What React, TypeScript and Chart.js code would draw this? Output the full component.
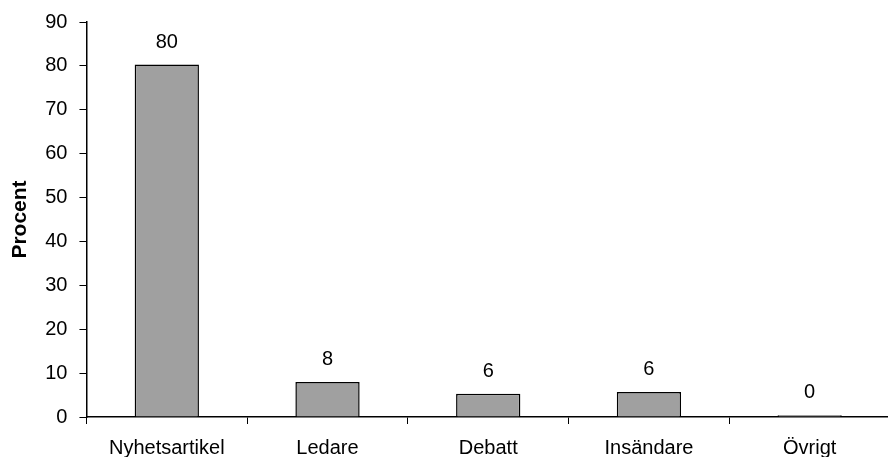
import React, { useEffect, useRef } from "react";
import { Chart, registerables } from "chart.js";

Chart.register(...registerables);

const categories = ["Nyhetsartikel", "Ledare", "Debatt", "Insändare", "Övrigt"];
const values = [80.3, 8.0, 5.3, 5.7, 0.4];
const valueLabels = ["80", "8", "6", "6", "0"];
const yTicks = [0, 10, 20, 30, 40, 50, 60, 70, 80, 90];

const FONT = "'Liberation Sans', Arial, sans-serif";

const valueLabelPlugin = {
  id: "valueLabels",
  afterDatasetsDraw(chart: any) {
    const ctx = chart.ctx;
    const meta = chart.getDatasetMeta(0);
    ctx.save();
    ctx.font = `20px ${FONT}`;
    ctx.fillStyle = "#000";
    ctx.textAlign = "center";
    ctx.textBaseline = "alphabetic";
    meta.data.forEach((bar: any, i: number) => {
      ctx.fillText(valueLabels[i], bar.x, bar.y - 17);
    });
    ctx.restore();
  },
};

export default function App() {
  const ref = useRef<HTMLCanvasElement>(null);
  useEffect(() => {
    if (!ref.current) return;
    const chart = new Chart(ref.current, {
      type: "bar",
      data: {
        labels: categories,
        datasets: [
          {
            data: values,
            backgroundColor: "#A0A0A0",
            borderColor: "#000000",
            borderWidth: 1.5,
            barPercentage: 0.4,
            categoryPercentage: 1,
          },
        ],
      },
      options: {
        responsive: false,
        animation: false,
        devicePixelRatio: 1,
        layout: { padding: { top: 7, left: 7, right: 0, bottom: 2 } },
        plugins: { legend: { display: false }, tooltip: { enabled: false } },
        scales: {
          x: {
            offset: true,
            grid: {
              offset: true,
              drawOnChartArea: false,
              drawTicks: true,
              tickLength: 7,
              color: "#000",
            },
            border: { color: "#000", width: 1.5 },
            ticks: { color: "#000", font: { family: FONT, size: 20 }, padding: 12, maxRotation: 0 },
          },
          y: {
            min: 0,
            max: 90,
            afterBuildTicks: (axis: any) => {
              axis.ticks = yTicks.map((v) => ({ value: v }));
            },
            grid: { drawOnChartArea: false, drawTicks: true, tickLength: 7, color: "#000" },
            border: { color: "#000", width: 1.5 },
            ticks: { color: "#000", font: { family: FONT, size: 20 }, padding: 12 },
            title: {
              display: true,
              text: "Procent",
              color: "#000",
              font: { family: FONT, size: 21, weight: "bold" },
              padding: { top: 1, bottom: 0 },
            },
          },
        },
      },
      plugins: [valueLabelPlugin],
    });
    return () => chart.destroy();
  }, []);
  return (
    <div style={{ position: "fixed", left: 0, top: 0, width: 888, height: 457, overflow: "hidden", background: "#fff" }}>
      <canvas ref={ref} width={890} height={476} style={{ display: "block", position: "absolute", left: 0, top: -2 }} />
    </div>
  );
}
